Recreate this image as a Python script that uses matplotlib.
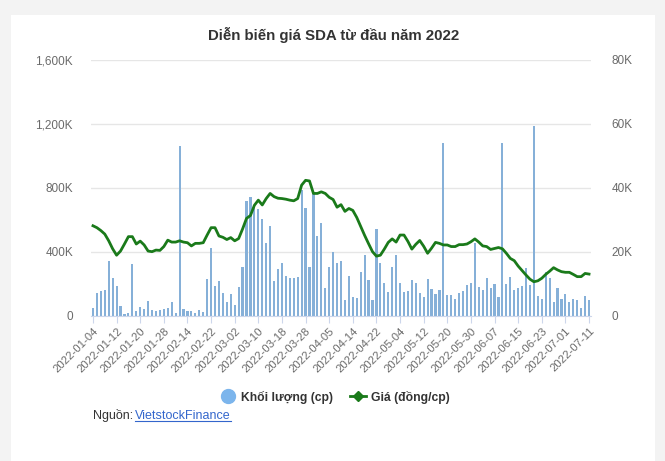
import matplotlib
matplotlib.use("Agg")
import matplotlib.pyplot as plt
from matplotlib.lines import Line2D
from matplotlib.patches import Rectangle
import pandas as pd

plt.rcParams["font.family"] = ["Liberation Sans", "DejaVu Sans"]

# trading days (Vietnam holidays removed)
HOLIDAYS = ["2022-01-31", "2022-02-01", "2022-02-02", "2022-02-03", "2022-02-04",
            "2022-04-11", "2022-05-02", "2022-05-03"]
dates = [d for d in pd.bdate_range("2022-01-04", "2022-07-11").strftime("%Y-%m-%d")
         if d not in HOLIDAYS]

# volume, thousand shares
volume_k = [50, 146, 156, 162, 344, 237, 187, 62, 10, 21,
            327, 33, 58, 42, 94, 40, 33, 37, 46, 52,
            87, 17, 1064, 44, 33, 33, 21, 37, 27, 231,
            425, 190, 219, 146, 90, 140, 67, 183, 308, 721,
            744, 683, 671, 607, 456, 562, 219, 294, 331, 251,
            237, 237, 244, 790, 674, 307, 765, 500, 581, 175,
            307, 400, 331, 344, 100, 252, 119, 112, 275, 381,
            225, 100, 544, 331, 206, 150, 308, 381, 206, 150,
            156, 225, 206, 144, 119, 231, 169, 137, 162, 1079,
            131, 131, 106, 144, 156, 194, 206, 454, 181, 162,
            237, 175, 200, 119, 1083, 200, 244, 162, 175, 187,
            300, 194, 1187, 125, 106, 275, 237, 87, 175, 106,
            137, 87, 106, 100, 50, 125, 100]

# price, thousand VND
price_k = [28.2, 27.6, 26.7, 25.6, 23.5, 21.0, 19.0, 20.3, 22.5, 24.8,
           24.8, 22.5, 23.4, 22.2, 20.3, 20.1, 20.6, 20.5, 21.7, 23.7,
           23.1, 23.1, 23.5, 23.1, 22.9, 21.9, 22.7, 22.7, 22.9, 25.3,
           27.6, 27.6, 25.0, 24.6, 23.9, 24.5, 23.5, 24.2, 27.2, 30.5,
           31.4, 34.6, 36.2, 34.7, 36.7, 38.3, 37.3, 36.8, 36.7, 36.5,
           36.2, 36.0, 36.7, 40.9, 42.4, 42.2, 38.3, 38.3, 38.8, 38.3,
           37.1, 36.4, 34.0, 34.8, 32.7, 33.6, 33.0, 30.8, 28.0, 25.2,
           22.6, 20.1, 18.7, 19.0, 20.9, 23.0, 24.1, 23.1, 25.3, 25.3,
           23.3, 20.9, 22.4, 23.6, 21.8, 19.6, 21.2, 23.0, 22.7, 22.2,
           22.2, 21.7, 21.7, 22.3, 22.3, 22.5, 23.2, 24.1, 23.1, 21.9,
           21.7, 20.8, 21.1, 21.4, 21.0, 19.6, 18.0, 17.3, 15.6, 14.2,
           12.8, 11.5, 10.7, 11.0, 11.8, 13.0, 14.0, 15.1, 14.4, 13.85,
           13.65, 13.65, 13.0, 12.3, 12.3, 13.3, 13.1]

vol_ticks = [0, 400000, 800000, 1200000, 1600000]
vol_labels = ["0", "400K", "800K", "1,200K", "1,600K"]
price_ticks = [0, 20000, 40000, 60000, 80000]
price_labels = ["0", "20K", "40K", "60K", "80K"]

BAR = "#86b0d8"
LINE = "#1a7a1a"
GRAY = "#6a6a6a"

W, H = 665, 461
fig = plt.figure(figsize=(W / 100, H / 100), dpi=100, facecolor="#f3f3f3")
fig.patches.append(Rectangle((11 / W, 0), 644 / W, (H - 15) / H,
                             transform=fig.transFigure, facecolor="white",
                             edgecolor="none", zorder=-5))

ax = fig.add_axes([91 / W, (H - 316) / H, 500 / W, 256 / H])
ax.set_facecolor("none")
x = list(range(len(dates)))
ax.bar(x, [v * 1000 for v in volume_k], width=0.55, color=BAR, zorder=2)
ax.set_xlim(-0.5, len(dates) - 0.5)
ax.set_ylim(0, 1600000)
ax.set_yticks(vol_ticks, vol_labels)
ax.grid(axis="y", color="#e6e6e6", lw=1, zorder=0)
ax.set_axisbelow(True)

ax2 = ax.twinx()
ax2.plot(x, [p * 1000 for p in price_k], color=LINE, lw=2.0, solid_joinstyle="round")
ax2.set_ylim(0, 80000)
ax2.set_yticks(price_ticks, price_labels)

for a in (ax, ax2):
    for s in a.spines.values():
        s.set_visible(False)
ax.spines["bottom"].set_visible(True)
ax.spines["bottom"].set_color("#ccd6eb")

ax.tick_params(axis="y", length=0, pad=13, labelsize=8.5, labelcolor=GRAY)
ax2.tick_params(axis="y", length=0, pad=15, labelsize=8.5, labelcolor=GRAY)
ax.set_xticks(x[::6], dates[::6])
ax.tick_params(axis="x", length=5, color="#ccd6eb", labelsize=8.2,
               labelcolor=GRAY, pad=2)
plt.setp(ax.get_xticklabels(), rotation=45, ha="right", rotation_mode="anchor")

fig.text(334 / W, 1 - 35 / H, "Diễn biến giá SDA từ đầu năm 2022", ha="center",
         va="center", fontsize=10.8, fontweight="bold", color="#333333")

handles = [Line2D([], [], marker="o", ls="", color="#7cb5ec", markersize=10),
           Line2D([], [], marker="D", color=LINE, lw=2, markersize=5)]
fig.legend(handles, ["Khối lượng (cp)", "Giá (đồng/cp)"], ncol=2,
           loc="center", bbox_to_anchor=(335 / W, 1 - 397 / H), frameon=False,
           prop={"size": 8.7, "weight": "bold"}, labelcolor="#333333",
           handlelength=1.3, columnspacing=1.4, handletextpad=0.4)

fig.text(93 / W, 1 - 416 / H, "Nguồn: ", ha="left", va="center",
         fontsize=9, color="#333333")
src = fig.text(135 / W, 1 - 416 / H, "VietstockFinance", ha="left", va="center",
               fontsize=9, color="#3366cc")
fig.canvas.draw()
bb = src.get_window_extent().transformed(fig.transFigure.inverted())
fig.add_artist(Line2D([bb.x0, bb.x1], [bb.y0 + 0.002, bb.y0 + 0.002],
                      transform=fig.transFigure, color="#3366cc", lw=0.8))

fig.savefig("out.png", dpi=100, facecolor=fig.get_facecolor())
